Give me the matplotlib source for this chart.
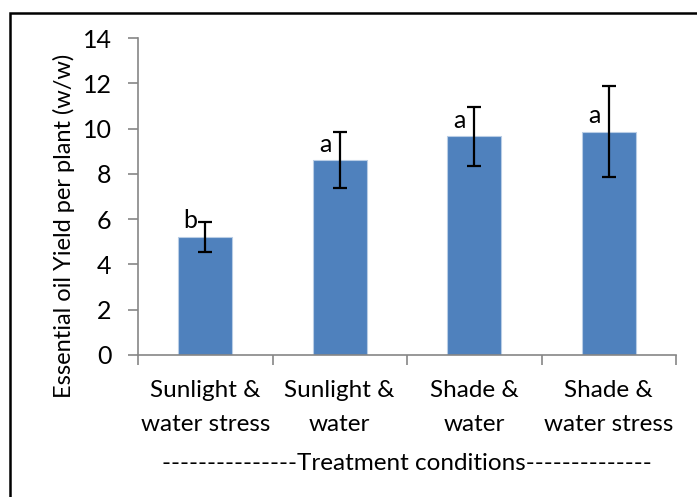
import matplotlib.pyplot as plt
from matplotlib.patches import Rectangle

# data
categories = ['Sunlight &\nwater stress', 'Sunlight &\nwater', 'Shade &\nwater', 'Shade &\nwater stress']
yields = [5.22, 8.6, 9.65, 9.87]
errors = [0.66, 1.24, 1.3, 2.02]
letters = ['b', 'a', 'a', 'a']

plt.rcParams['font.family'] = ['Lato', 'DejaVu Sans']

fig = plt.figure(figsize=(6.97, 4.97), dpi=100)
ax = fig.add_axes([138 / 697, 1 - 355 / 497, (676 - 138) / 697, (355 - 38) / 497])

x = range(len(categories))
ax.bar(x, yields, width=0.4, color='#4F81BD', edgecolor='#B9CDE5', linewidth=0.8, zorder=2)
ax.errorbar(x, yields, yerr=errors, fmt='none', ecolor='black', elinewidth=1.6,
            capsize=4.7, capthick=1.6, zorder=3)
for i, (v, s) in enumerate(zip(yields, letters)):
    ax.annotate(s, (i, v + 0.7), xytext=(-6, 0), textcoords='offset points',
                ha='right', va='center', fontsize=18)

ax.set_xlim(-0.5, len(categories) - 0.5)
ax.set_ylim(0, 14)
ax.set_yticks(range(0, 15, 2))
ax.set_xticks([i - 0.5 for i in range(len(categories) + 1)])
ax.set_xticklabels([])
ax.set_xticks(list(x), minor=True)
ax.set_xticklabels(categories, minor=True, fontsize=17.5, linespacing=1.75)
ax.tick_params(axis='x', which='minor', length=0, pad=18)
ax.tick_params(axis='x', which='major', length=7, color='#868686', width=1.2)
ax.tick_params(axis='y', length=7, color='#868686', width=1.2, labelsize=18, pad=12)

for sp in ['top', 'right']:
    ax.spines[sp].set_visible(False)
for sp in ['left', 'bottom']:
    ax.spines[sp].set_color('#868686')
    ax.spines[sp].set_linewidth(1.2)

fig.text(64 / 697, 1 - 226 / 497, 'Essential oil Yield per plant (w/w)', rotation=90,
         ha='center', va='center', fontsize=17)
fig.text(407 / 697, 1 - 463 / 497, '---------------Treatment conditions--------------',
         ha='center', va='center', fontsize=17.5)

# outer frame
fig.patches.append(Rectangle((10 / 697, -0.05), 1.0, 1 - 13 / 497 + 0.05, transform=fig.transFigure,
                             fill=False, edgecolor='black', linewidth=1.8))

fig.savefig('out.png', dpi=100)
